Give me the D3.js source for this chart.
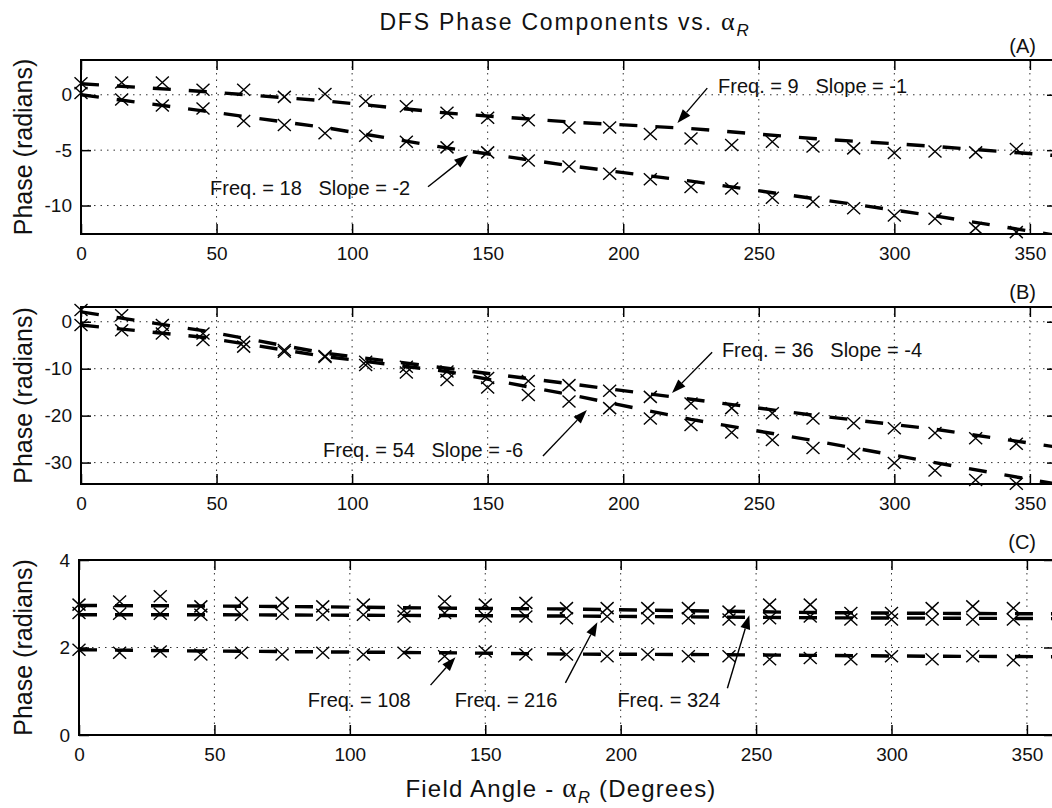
<!DOCTYPE html>
<html>
<head>
<meta charset="utf-8">
<script src="https://cdn.jsdelivr.net/npm/d3@7"></script>
<style>
  body { margin: 0; background: #fff; }
  text { font-family: "Liberation Sans", Arial, Helvetica, sans-serif; fill: #111; }
</style>
</head>
<body>
<div id="chart"></div>
<script>
// sample angles (degrees) for the measured points, and for the fitted dashed lines
const angles = [0, 15, 30, 45, 60, 75, 90, 105, 120, 135, 150, 165,
                180, 195, 210, 225, 240, 255, 270, 285, 300, 315, 330, 345];
const fitAngles = [0, 45, 90, 135, 180, 225, 270, 315, 360];
const xTicks = [0, 50, 100, 150, 200, 250, 300, 350];

// Panel A
const phaseA9 = [1.05, 1.1, 1.1, 0.46, 0.46, -0.19, 0.07, -0.58, -1.03, -1.62, -2.07, -2.3,
                 -2.96, -2.96, -3.55, -3.94, -4.54, -4.24, -4.66, -4.84, -5.25, -5.13, -5.2, -4.9];
const phaseA18 = [0.16, -0.43, -0.97, -1.23, -2.37, -2.72, -3.47, -3.7, -4.24, -4.75, -5.2, -5.94,
                  -6.47, -7.13, -7.63, -8.32, -8.47, -9.3, -9.66, -10.25, -10.9, -11.2, -12.04, -12.4];
const fitA9 = [1.0, 0.3, -0.55, -1.65, -2.45, -3.05, -3.95, -4.66, -5.5];
const fitA18 = [0.0, -1.45, -2.96, -4.8, -6.4, -7.8, -9.36, -10.94, -12.7];
const yTicksA = [-10, -5, 0];

// Panel B
const phaseB36 = [2.5, 1.4, -0.7, -2.5, -4.3, -6.0, -7.3, -8.5, -9.6, -10.6, -12.0, -12.6,
                  -13.5, -14.7, -16.0, -17.4, -18.4, -19.5, -20.6, -21.6, -22.7, -23.7, -24.8, -26.0];
const phaseB54 = [-0.7, -1.8, -2.5, -3.9, -5.3, -6.4, -7.5, -9.2, -10.8, -12.4, -14.0, -15.6,
                  -17.0, -18.4, -20.6, -22.0, -23.6, -25.2, -26.9, -28.1, -30.1, -31.7, -33.7, -34.5];
const fitB36 = [2.1, -1.9, -6.7, -9.9, -13.2, -16.5, -19.9, -22.9, -26.7];
const fitB54 = [-0.7, -3.3, -7.4, -10.6, -15.5, -20.8, -25.3, -30.0, -34.6];
const yTicksB = [-30, -20, -10, 0];

// Panel C
const phaseC108 = [1.95, 1.88, 1.91, 1.84, 1.88, 1.84, 1.88, 1.84, 1.88, 1.8, 1.91, 1.84,
                   1.84, 1.8, 1.84, 1.8, 1.8, 1.73, 1.76, 1.73, 1.8, 1.73, 1.8, 1.71];
const phaseC216 = [2.98, 3.05, 3.17, 2.94, 3.02, 3.02, 2.94, 2.98, 2.84, 3.05, 2.98, 3.02,
                   2.9, 2.9, 2.9, 2.9, 2.82, 2.98, 2.98, 2.79, 2.79, 2.9, 2.94, 2.9];
const phaseC324 = [2.79, 2.77, 2.77, 2.75, 2.75, 2.77, 2.75, 2.75, 2.71, 2.79, 2.71, 2.71,
                   2.67, 2.71, 2.67, 2.67, 2.64, 2.67, 2.71, 2.64, 2.64, 2.64, 2.64, 2.64];
const fitC108 = [1.95, 1.92, 1.9, 1.88, 1.85, 1.84, 1.82, 1.8, 1.79];
const fitC216 = [2.96, 2.95, 2.93, 2.9, 2.88, 2.84, 2.8, 2.78, 2.77];
const fitC324 = [2.75, 2.75, 2.74, 2.73, 2.72, 2.7, 2.68, 2.67, 2.66];
const yTicksC = [0, 2, 4];

const W = 1052, H = 808;

const panels = [
    {
        id: "A", top: 60, bottom: 234, xRange: [81, 1057], yDomain: [-12.57, 3.14], yTicks: yTicksA,
        labelY: 53,
        series: [{ marks: phaseA9, fit: fitA9 }, { marks: phaseA18, fit: fitA18 }],
        notes: [
            { text: "Freq. = 9   Slope = -1", tx: 235, ty: 0.15, from: [231, 0.6], to: [220, -2.55] },
            { text: "Freq. = 18   Slope = -2", tx: 47.6, ty: -9.05, from: [128, -8.3], to: [142.8, -5.43] }
        ]
    },
    {
        id: "B", top: 307, bottom: 484, xRange: [81, 1057], yDomain: [-34.56, 3.14], yTicks: yTicksB,
        labelY: 299,
        series: [{ marks: phaseB36, fit: fitB36 }, { marks: phaseB54, fit: fitB54 }],
        notes: [
            { text: "Freq. = 36   Slope = -4", tx: 236.4, ty: -7.5, from: [232.8, -6.5], to: [218, -15.2] },
            { text: "Freq. = 54   Slope = -6", tx: 89.3, ty: -28.8, from: [170.4, -28.6], to: [186.6, -18.8] }
        ]
    },
    {
        id: "C", top: 560, bottom: 735, xRange: [79, 1054], yDomain: [0, 4], yTicks: yTicksC,
        labelY: 549,
        series: [{ marks: phaseC108, fit: fitC108 }, { marks: phaseC216, fit: fitC216 }, { marks: phaseC324, fit: fitC324 }],
        notes: [
            { text: "Freq. = 108", tx: 84.5, ty: 0.64, from: [129.8, 1.14], to: [139, 1.78] },
            { text: "Freq. = 216", tx: 138.7, ty: 0.64, from: [179.6, 1.19], to: [191.4, 2.58] },
            { text: "Freq. = 324", tx: 198.8, ty: 0.64, from: [239.4, 1.07], to: [247.5, 2.74] }
        ]
    }
];

const svg = d3.select("#chart")
    .append("svg")
    .attr("width", W)
    .attr("height", H)
    .style("display", "block");

svg.append("rect").attr("width", W).attr("height", H).attr("fill", "#fff");

const defs = svg.append("defs");

// title
const title = svg.append("text")
    .attr("x", 565)
    .attr("y", 30)
    .attr("text-anchor", "middle")
    .style("font-size", "23px")
    .style("letter-spacing", "1.8px")
    .text("DFS Phase Components vs. ");
title.append("tspan").style("font-family", "'Liberation Serif', serif").style("font-size", "26px").text("α");
title.append("tspan").attr("dy", 6).style("font-style", "italic").style("font-size", "17px").text("R");

// x label
const xlab = svg.append("text")
    .attr("x", 561)
    .attr("y", 797)
    .attr("text-anchor", "middle")
    .style("font-size", "24px")
    .style("letter-spacing", "1.2px")
    .text("Field Angle - ");
xlab.append("tspan").style("font-family", "'Liberation Serif', serif").style("font-size", "27px").text("α");
xlab.append("tspan").attr("dy", 6).style("font-style", "italic").style("font-size", "17px").text("R");
xlab.append("tspan").attr("dy", -6).text(" (Degrees)");

panels.forEach(p => {
    const x = d3.scaleLinear().domain([0, 360]).range(p.xRange);
    const y = d3.scaleLinear().domain(p.yDomain).range([p.bottom, p.top]);
    const g = svg.append("g");

    defs.append("clipPath").attr("id", "clip" + p.id)
        .append("rect")
        .attr("x", p.xRange[0]).attr("y", p.top)
        .attr("width", p.xRange[1] - p.xRange[0]).attr("height", p.bottom - p.top);

    // dotted grid
    g.selectAll("line.vgrid")
        .data(xTicks.filter(d => d > 0))
        .join("line")
        .attr("class", "vgrid")
        .attr("x1", d => x(d)).attr("x2", d => x(d))
        .attr("y1", p.top).attr("y2", p.bottom)
        .attr("stroke", "#333").attr("stroke-width", 1).attr("stroke-dasharray", "1.5,5");

    g.selectAll("line.hgrid")
        .data(p.yTicks.filter(v => y(v) > p.top + 2 && y(v) < p.bottom - 2))
        .join("line")
        .attr("class", "hgrid")
        .attr("x1", p.xRange[0]).attr("x2", p.xRange[1])
        .attr("y1", d => y(d)).attr("y2", d => y(d))
        .attr("stroke", "#333").attr("stroke-width", 1).attr("stroke-dasharray", "1.5,5");

    // fitted dashed lines
    const line = d3.line()
        .x((d, i) => x(fitAngles[i]))
        .y(d => y(d));

    p.series.forEach(s => {
        g.append("path")
            .datum(s.fit)
            .attr("d", line)
            .attr("clip-path", `url(#clip${p.id})`)
            .attr("fill", "none")
            .attr("stroke", "#000")
            .attr("stroke-width", 3.4)
            .attr("stroke-dasharray", "18,18");
    });

    // x markers
    p.series.forEach(s => {
        g.append("g")
            .selectAll("path")
            .data(s.marks)
            .join("path")
            .attr("transform", (d, i) => `translate(${x(angles[i])},${y(d)})`)
            .attr("d", "M-6.5,-6L6.5,6M-6.5,6L6.5,-6")
            .attr("fill", "none")
            .attr("stroke", "#000")
            .attr("stroke-width", 1.4);
    });

    // axes with inward ticks
    const styleAxis = sel => {
        sel.select(".domain").remove();
        sel.selectAll(".tick line").attr("stroke", "#000").attr("stroke-width", 1.5);
        sel.selectAll(".tick text").style("font-size", "19px").attr("fill", "#111")
            .style("font-family", "'Liberation Sans', Arial, sans-serif");
    };

    g.append("g")
        .attr("transform", `translate(0,${p.bottom})`)
        .call(d3.axisBottom(x).tickValues(xTicks).tickSizeInner(-10).tickSizeOuter(0).tickPadding(13)
            .tickFormat(d => String(d)))
        .call(styleAxis);

    g.append("g")
        .attr("transform", `translate(0,${p.top})`)
        .call(d3.axisTop(x).tickValues(xTicks).tickSizeInner(-10).tickSizeOuter(0).tickFormat(""))
        .call(styleAxis);

    g.append("g")
        .attr("transform", `translate(${p.xRange[0]},0)`)
        .call(d3.axisLeft(y).tickValues(p.yTicks).tickSizeInner(-10).tickSizeOuter(0).tickPadding(9)
            .tickFormat(d => String(d)))
        .call(styleAxis);

    g.append("g")
        .attr("transform", `translate(${p.xRange[1]},0)`)
        .call(d3.axisRight(y).tickValues(p.yTicks).tickSizeInner(-10).tickSizeOuter(0).tickFormat(""))
        .call(styleAxis);

    // frame
    g.append("rect")
        .attr("x", p.xRange[0]).attr("y", p.top)
        .attr("width", p.xRange[1] - p.xRange[0]).attr("height", p.bottom - p.top)
        .attr("fill", "none").attr("stroke", "#000").attr("stroke-width", 2);

    // y label
    svg.append("text")
        .attr("transform", `translate(23,${(p.top + p.bottom) / 2}) rotate(-90)`)
        .attr("text-anchor", "middle")
        .attr("dominant-baseline", "central")
        .style("font-size", "25px")
        .text("Phase (radians)");

    // panel tag
    svg.append("text")
        .attr("x", 1036)
        .attr("y", p.labelY)
        .attr("text-anchor", "end")
        .style("font-size", "20px")
        .text(`(${p.id})`);

    // annotations with arrows
    p.notes.forEach(n => {
        g.append("text")
            .attr("x", x(n.tx))
            .attr("y", y(n.ty))
            .style("font-size", "20px")
            .style("white-space", "pre")
            .text(n.text);

        const x1 = x(n.from[0]), y1 = y(n.from[1]);
        const x2 = x(n.to[0]), y2 = y(n.to[1]);
        const ang = Math.atan2(y2 - y1, x2 - x1);
        const len = 14, half = 5;
        const bx = x2 - len * Math.cos(ang), by = y2 - len * Math.sin(ang);

        g.append("line")
            .attr("x1", x1).attr("y1", y1).attr("x2", bx).attr("y2", by)
            .attr("stroke", "#000").attr("stroke-width", 1.4);

        g.append("path")
            .attr("d", `M${x2},${y2}L${bx - half * Math.sin(ang)},${by + half * Math.cos(ang)}L${bx + half * Math.sin(ang)},${by - half * Math.cos(ang)}Z`)
            .attr("fill", "#000");
    });
});
</script>
</body>
</html>
